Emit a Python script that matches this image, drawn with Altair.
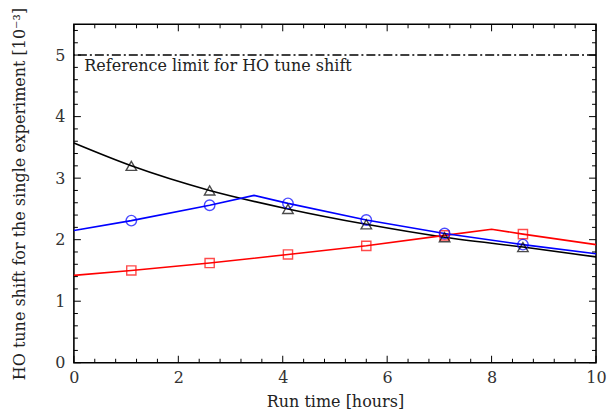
import altair as alt
import pandas as pd

# --- data ---
black_x = [0, 1.1, 2.6, 4.1, 5.6, 7.1, 8.6, 10]
black_y = [3.57, 3.20, 2.80, 2.50, 2.25, 2.04, 1.88, 1.72]

blue_x = [0, 1.1, 2.6, 3.45, 4.1, 5.6, 7.1, 8.6, 10]
blue_y = [2.15, 2.31, 2.56, 2.72, 2.59, 2.32, 2.10, 1.92, 1.77]

red_x = [0, 1.1, 2.6, 4.1, 5.6, 7.1, 8.0, 8.6, 10]
red_y = [1.42, 1.50, 1.62, 1.76, 1.90, 2.07, 2.17, 2.09, 1.92]

marker_x = [1.1, 2.6, 4.1, 5.6, 7.1, 8.6]
black_marker_y = [3.20, 2.80, 2.50, 2.25, 2.04, 1.88]
blue_marker_y = [2.31, 2.56, 2.59, 2.32, 2.10, 1.92]
red_marker_y = [1.50, 1.62, 1.76, 1.90, 2.07, 2.09]

ref_limit = 5.0
ref_label = "Reference limit for HO tune shift"

x_major = [0, 2, 4, 6, 8, 10]
x_minor = [v / 10 for v in range(0, 101, 4) if v % 20 != 0]
y_major = [0, 1, 2, 3, 4, 5]
y_minor = [v / 10 for v in range(0, 56, 2) if v % 10 != 0]

W, H = 523, 339
FONT = "DejaVu Serif"

xs = alt.Scale(domain=[0, 10], nice=False, zero=False)
ys = alt.Scale(domain=[0, 5.5], nice=False, zero=False)

df_black = pd.DataFrame({"x": black_x, "y": black_y})
df_blue = pd.DataFrame({"x": blue_x, "y": blue_y})
df_red = pd.DataFrame({"x": red_x, "y": red_y})
df_bm = pd.DataFrame({"x": marker_x, "y": black_marker_y})
df_um = pd.DataFrame({"x": marker_x, "y": blue_marker_y})
df_rm = pd.DataFrame({"x": marker_x, "y": red_marker_y})

xaxis = alt.Axis(values=x_major, title="Run time [hours]", domain=False, ticks=False,
                 grid=False, labelPadding=7, titlePadding=8, format="d", labelFlush=False)
yaxis = alt.Axis(values=y_major, title="HO tune shift for the single experiment [10\u207b\u00b3]",
                 domain=False, ticks=False, grid=False, labelPadding=9, titlePadding=27,
                 format="d", labelFlush=False)

base_line = alt.Chart(df_black).mark_line(color="black", strokeWidth=1.6, interpolate="monotone").encode(
    x=alt.X("x:Q", scale=xs, axis=xaxis),
    y=alt.Y("y:Q", scale=ys, axis=yaxis),
)
blue_line = alt.Chart(df_blue).mark_line(color="#0000ff", strokeWidth=1.6).encode(
    x=alt.X("x:Q", scale=xs), y=alt.Y("y:Q", scale=ys))
red_line = alt.Chart(df_red).mark_line(color="#ff0000", strokeWidth=1.6).encode(
    x=alt.X("x:Q", scale=xs), y=alt.Y("y:Q", scale=ys))

bm = alt.Chart(df_bm).mark_point(shape="triangle-up", color="black", filled=False, size=110, strokeWidth=1.4).encode(
    x=alt.X("x:Q", scale=xs), y=alt.Y("y:Q", scale=ys))
um = alt.Chart(df_um).mark_point(shape="circle", color="#0000ff", filled=False, size=110, strokeWidth=1.4).encode(
    x=alt.X("x:Q", scale=xs), y=alt.Y("y:Q", scale=ys))
rm = alt.Chart(df_rm).mark_point(shape="square", color="#ff0000", filled=False, size=85, strokeWidth=1.4).encode(
    x=alt.X("x:Q", scale=xs), y=alt.Y("y:Q", scale=ys))

ref = alt.Chart(pd.DataFrame({"y": [ref_limit]})).mark_rule(
    color="black", strokeWidth=1.6, strokeDash=[9, 3, 2, 3]).encode(
    y=alt.Y("y:Q", scale=ys))
ref_text = alt.Chart(pd.DataFrame({"x": [0.2], "y": [ref_limit], "t": [ref_label]})).mark_text(
    align="left", baseline="top", dy=3, font=FONT, fontSize=16, color="#222").encode(
    x=alt.X("x:Q", scale=xs), y=alt.Y("y:Q", scale=ys), text="t:N")

def xticks(vals, length):
    d = pd.DataFrame({"x": vals})
    b = alt.Chart(d).mark_rule(color="black", strokeWidth=1)
    bot = b.encode(x=alt.X("x:Q", scale=xs), y=alt.value(H), y2=alt.value(H - length))
    top = b.encode(x=alt.X("x:Q", scale=xs), y=alt.value(0), y2=alt.value(length))
    return [bot, top]

def yticks(vals, length):
    d = pd.DataFrame({"y": vals})
    b = alt.Chart(d).mark_rule(color="black", strokeWidth=1)
    left = b.encode(y=alt.Y("y:Q", scale=ys), x=alt.value(0), x2=alt.value(length))
    right = b.encode(y=alt.Y("y:Q", scale=ys), x=alt.value(W), x2=alt.value(W - length))
    return [left, right]

layers = [base_line, ref, ref_text, red_line, blue_line, rm, um, bm]
layers += xticks(x_major, 7) + xticks(x_minor, 4) + yticks(y_major, 7) + yticks(y_minor, 4)

chart = alt.layer(*layers).properties(
    width=W, height=H,
    autosize=alt.AutoSizeParams(type="none"),
    padding={"left": 66, "top": 16, "right": 11, "bottom": 48},
).configure(background="white").configure_view(
    stroke="black", strokeWidth=1.6
).configure_axis(
    labelFont=FONT, titleFont=FONT, labelFontSize=16, titleFontSize=16,
    labelColor="#333", titleColor="#222", titleFontWeight="normal",
)

chart.save("out.html", embed_options={"renderer": "svg", "actions": False})
